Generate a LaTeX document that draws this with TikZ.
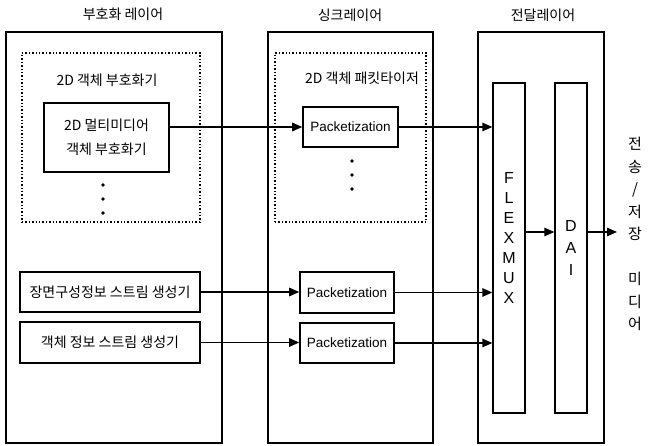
\documentclass[tikz,border=0pt]{standalone}
\usepackage{fontspec}
\setmainfont{Noto Sans CJK KR}
\newfontfamily\latinfont{Liberation Sans}
\usetikzlibrary{arrows.meta}

\tikzset{
  layerbox/.style={draw,line width=2pt,inner sep=0pt,minimum height=411pt},
  groupbox/.style={draw,dotted,line width=1.4pt,inner sep=0pt,minimum height=169pt},
  unitbox/.style={draw,line width=1.6pt,inner sep=0pt,align=center},
  slab/.style={draw,line width=1.4pt,inner sep=0pt,minimum width=32pt,minimum height=330pt},
  link/.style={line width=1.4pt,-{Triangle[length=10pt,width=8.5pt]}},
  ko/.style={font=\fontsize{14}{24}\selectfont},
  pk/.style={font=\latinfont\fontsize{13.5}{16}\selectfont},
}

\begin{document}
\begin{tikzpicture}[x=1pt,y=-1pt]
\useasboundingbox (0,0) rectangle (649,446);
% layers
\node[layerbox,minimum width=216pt] (encLayer) at (114,237.5) {};
\node[layerbox,minimum width=165pt] (syncLayer) at (350.5,237.5) {};
\node[layerbox,minimum width=126pt] (delLayer) at (541,237.5) {};
\node[ko] (encTitle) at (123,14) {부호화 레이어};
\node[ko] (syncTitle) at (350,15) {싱크레이어};
\node[ko] (delTitle) at (543,15) {전달레이어};
% 2D object groups
\node[groupbox,minimum width=178pt] (encGroup) at (111,137.5) {};
\node[groupbox,minimum width=151pt] (syncGroup) at (350.5,137.5) {};
\node[ko] (encGroupTitle) at (107,80) {2D 객체 부호화기};
\node[ko] (syncGroupTitle) at (362,78) {2D 객체 패킷타이저};
\node[unitbox,ko,minimum width=125pt,minimum height=69pt] (mmEnc) at (106.5,137.5) {2D 멀티미디어\\객체 부호화기};
\foreach \yy in {185,199,213} {\fill (103,\yy) circle (1.8pt);}
\foreach \yy in {161,175,189} {\fill (352,\yy) circle (1.8pt);}
% stream generators
\node[unitbox,ko,minimum width=180pt,minimum height=40pt] (sceneGen) at (110,292) {장면구성정보 스트림 생성기};
\node[unitbox,ko,minimum width=180pt,minimum height=41pt] (objGen) at (110,342.5) {객체 정보 스트림 생성기};
% packetizers
\node[unitbox,pk,minimum width=95pt,minimum height=40pt] (pack1) at (350.5,127) {Packetization};
\node[unitbox,pk,minimum width=94pt,minimum height=41pt] (pack2) at (347,292.5) {Packetization};
\node[unitbox,pk,minimum width=94pt,minimum height=40pt] (pack3) at (347,343) {Packetization};
% delivery
\node[slab] (flexmux) at (509,248) {};
\node[slab] (dai) at (571,248) {};
\node[font=\latinfont\fontsize{16}{20}\selectfont,align=center] (flexmuxText) at (509,238) {F\\L\\E\\X\\M\\U\\X};
\node[font=\latinfont\fontsize{16}{22}\selectfont,align=center] (daiText) at (571,248) {D\\A\\I};
\coordinate (outTip) at (617,232);
\node[font=\fontsize{15}{22.5}\selectfont,align=center] (media) at (635,234) {전\\송\\/\\저\\장\\[22.5pt]미\\디\\어};
% connectors
\draw[link] (mmEnc.east |- pack1.west) -- (pack1.west);
\draw[link] (sceneGen.east) -- (sceneGen.east -| pack2.west);
\draw[link] (objGen.east) -- (objGen.east -| pack3.west);
\draw[link] (pack1.east) -- (pack1.east -| flexmux.west);
\draw[link] (pack2.east) -- (pack2.east -| flexmux.west);
\draw[link] (pack3.east) -- (pack3.east -| flexmux.west);
\draw[link] (flexmux.east |- outTip) -- (dai.west |- outTip);
\draw[link] (dai.east |- outTip) -- (outTip);
\end{tikzpicture}
\end{document}
